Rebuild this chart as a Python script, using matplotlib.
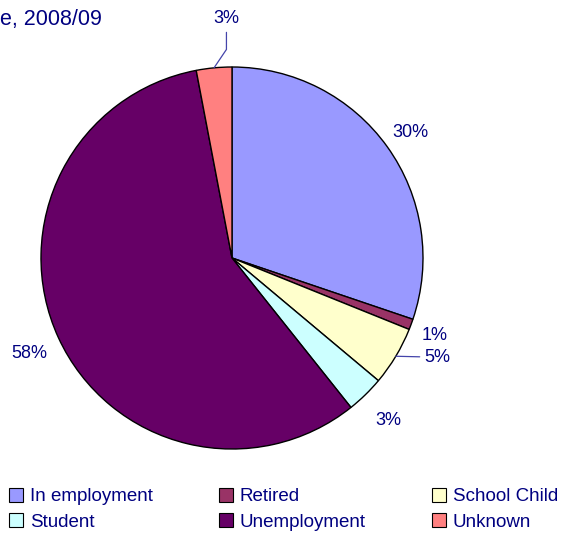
import numpy as np
import matplotlib
matplotlib.use("Agg")
import matplotlib.pyplot as plt
from matplotlib.patches import Patch

plt.rcParams["font.family"] = ["Liberation Sans", "DejaVu Sans"]

# ---- data ----
categories = ["In employment", "Retired", "School Child", "Student", "Unemployment", "Unknown"]
shares = [30.2, 0.9, 5.0, 3.2, 57.7, 3.0]
labels = ["30%", "1%", "5%", "3%", "58%", "3%"]
colors = ["#9999FF", "#993366", "#FFFFCC", "#CCFFFF", "#660066", "#FF8080"]

TEXT = "#000080"
W, H = 563, 534
CX, CY, R = 232, 258, 191     # pie centre / radius in pixels

fig = plt.figure(figsize=(W / 100, H / 100), dpi=100)
ax = fig.add_axes([0, 0, 1, 1])

wedges, _ = ax.pie(shares, colors=colors, startangle=90, counterclock=False,
                   radius=1.0, wedgeprops=dict(edgecolor="black", linewidth=1.0))
# pie() resets the limits, so map data units to pixels afterwards
ax.set_xlim(-CX / R, (W - CX) / R)
ax.set_ylim(-(H - CY) / R, CY / R)
ax.set_aspect("equal")
ax.axis("off")

# label radius per slice, and leader lines for the cramped ones
lab_r = [1.15, 1.13, 1.15, 1.17, 1.17, 1.26]
for i, w in enumerate(wedges):
    mid = np.deg2rad((w.theta1 + w.theta2) / 2)
    ex, ey = np.cos(mid), np.sin(mid)
    if categories[i] == "School Child":
        ax.annotate(labels[i], xy=(ex, ey), xytext=(ex + 0.215, ey - 0.005),
                    ha="center", va="center", color=TEXT, fontsize=13,
                    arrowprops=dict(arrowstyle="-", color="#4444AA", lw=0.9,
                                    shrinkA=1, shrinkB=0))
    elif categories[i] == "Unknown":
        ax.annotate(labels[i], xy=(ex, ey), xytext=(ex + 0.065, 1.255),
                    ha="center", va="center", color=TEXT, fontsize=13,
                    arrowprops=dict(arrowstyle="-", color="#4444AA", lw=0.9,
                                    shrinkA=2, shrinkB=0,
                                    connectionstyle="angle,angleA=90,angleB=56,rad=0"))
    else:
        ax.text(lab_r[i] * ex, lab_r[i] * ey - 0.012, labels[i], ha="center", va="center",
                color=TEXT, fontsize=13)

# clipped title
fig.text(0.0, 1 - 19 / H, "e, 2008/09", ha="left", va="center", color=TEXT, fontsize=15.5)

# legend: column-major order for 3 columns
order = [0, 3, 1, 4, 2, 5]
handles = [Patch(facecolor=colors[k], edgecolor="black", linewidth=0.8) for k in order]
fig.legend(handles, [categories[k] for k in order], ncol=3,
           loc="upper left", bbox_to_anchor=(9 / W, 1 - 488 / H),
           frameon=False, fontsize=13.5, labelcolor=TEXT,
           handlelength=0.75, handleheight=0.75, handletextpad=0.35,
           columnspacing=3.55, labelspacing=0.42, borderpad=0, borderaxespad=0)

fig.savefig("out.png", dpi=100)
